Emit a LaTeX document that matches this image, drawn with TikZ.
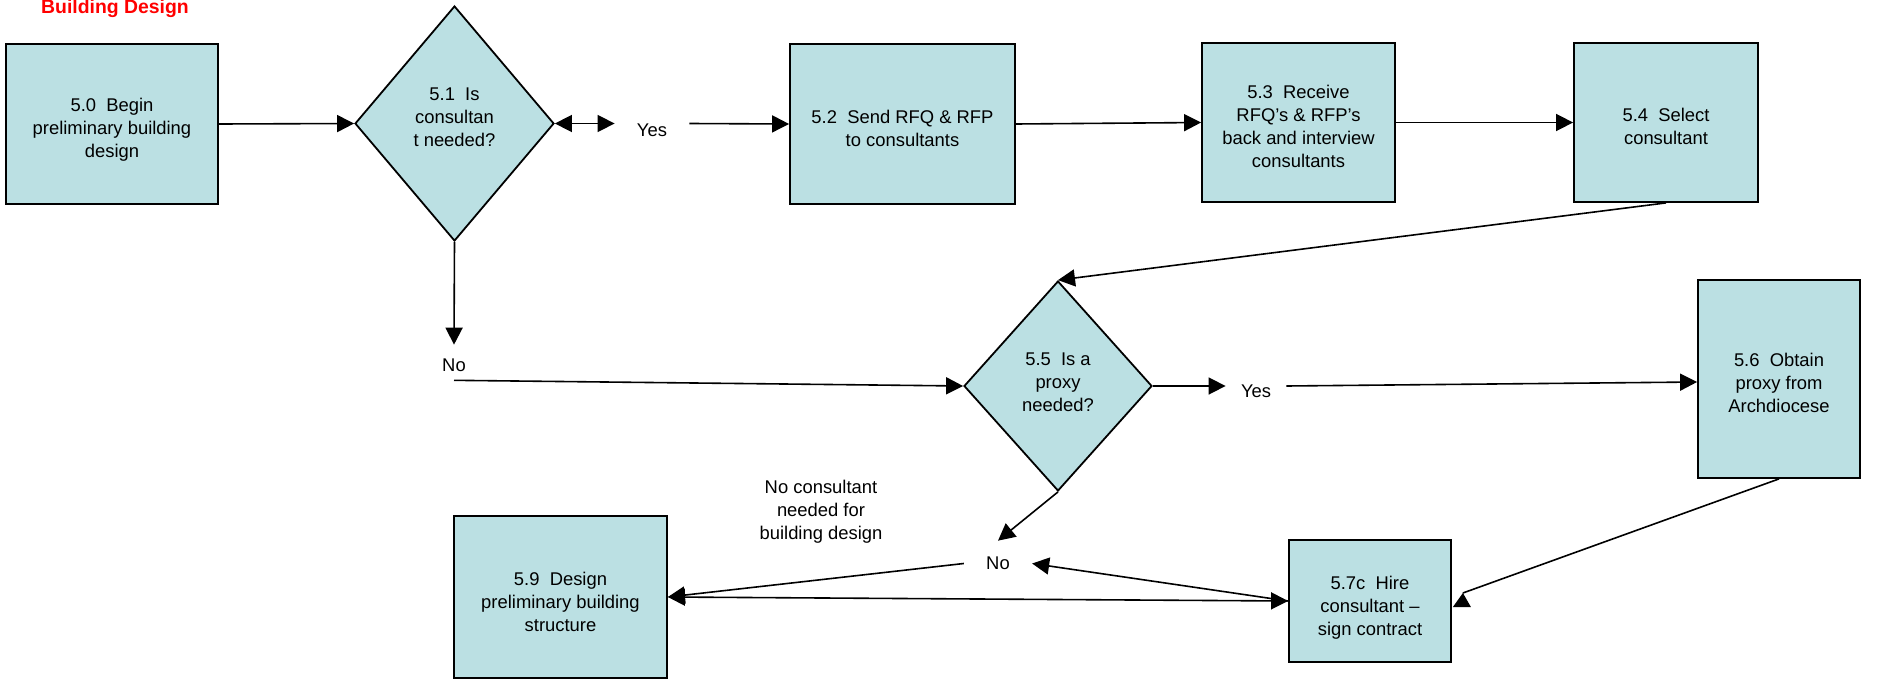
\documentclass[tikz,border=0pt]{standalone}
\usepackage{fontspec}
\setmainfont{Liberation Sans}
\usetikzlibrary{arrows.meta,shapes.geometric}
\definecolor{boxfill}{HTML}{BBE0E3}
\begin{document}
\begin{tikzpicture}[x=0.5pt,y=-0.5pt,
  every node/.style={font=\fontsize{9.2pt}{11.5pt}\selectfont},
  proc/.style={draw, line width=0.9pt, fill=boxfill, inner sep=0pt},
  decis/.style={diamond, draw, line width=0.9pt, fill=boxfill, inner sep=0pt},
  lbl/.style={align=center, inner sep=0pt},
  wire/.style={line width=0.8pt},
  conn/.style={wire, -{Triangle[length=8.5pt,width=8.5pt]}},
  conn2/.style={wire, {Triangle[length=8.5pt,width=8.5pt]}-{Triangle[length=8.5pt,width=8.5pt]}}]
\useasboundingbox (0,0) rectangle (1903,685);

% title
\node[anchor=base, text=red, font=\fontsize{9.7pt}{11pt}\selectfont\bfseries, inner sep=0pt] (title) at (115,13) {Building Design};

% process boxes
\node[proc, minimum width=106pt, minimum height=80pt] (b50) at (112,124) {};
\node[proc, minimum width=112.5pt, minimum height=80pt] (b52) at (902.5,124) {};
\node[proc, minimum width=96.5pt, minimum height=79.5pt] (b53) at (1298.5,122.5) {};
\node[proc, minimum width=92pt, minimum height=79.5pt] (b54) at (1666,122.5) {};
\node[proc, minimum width=81pt, minimum height=99pt] (b56) at (1779,379) {};
\node[proc, minimum width=81pt, minimum height=61pt] (b57c) at (1370,601) {};
\node[proc, minimum width=106.5pt, minimum height=81pt] (b59) at (560.5,597) {};

% decisions
\node[decis, minimum width=99.5pt, minimum height=117.5pt] (d51) at (454.5,123.5) {};
\node[decis, minimum width=94pt, minimum height=105pt] (d55) at (1058,386) {};

% texts of boxes and decisions
\node[lbl] (t50) at (112,130) {5.0~~Begin\\preliminary building\\design};
\node[lbl] (t52) at (902.5,128) {5.2~~Send RFQ \& RFP\\to consultants};
\node[lbl] (t53) at (1298.5,126.5) {5.3~~Receive\\RFQ’s \& RFP’s\\back and interview\\consultants};
\node[lbl] (t54) at (1666,126.5) {5.4~~Select\\consultant};
\node[lbl] (t56) at (1779,382.5) {5.6~~Obtain\\proxy from\\Archdiocese};
\node[lbl] (t57c) at (1370,607.5) {5.7c~~Hire\\consultant –\\sign contract};
\node[lbl] (t59) at (560.5,602) {5.9~~Design\\preliminary building\\structure};
\node[lbl] (t51) at (454.5,117.5) {5.1~~Is\\consultan\\t needed?};
\node[lbl] (t55) at (1058,382.5) {5.5~~Is a\\proxy\\needed?};

% labels
\node[lbl, inner xsep=11pt] (yes1) at (652,130.5) {Yes};
\node[lbl, inner ysep=7pt] (no1) at (454,365.5) {No};
\node[lbl, inner xsep=7.5pt] (yes2) at (1256,391) {Yes};
\node[lbl, inner xsep=11pt, inner ysep=8pt] (no2) at (998,563.5) {No};
\node[lbl] (ncn) at (821,512) {No consultant\\needed for\\building design};

% connectors
\draw[conn] (b50.east) -- (d51.west);
\draw[conn2] (d51.east) -- (yes1.west |- d51.east);
\draw[conn] (yes1.east |- d51.east) -- (b52.west);
\draw[conn] (b52.east) -- (b53.west);
\draw[conn] (b53.east) -- (b54.west);
\draw[conn] (b54.south) -- (d55.north);
\draw[conn] (d51.south) -- (no1.north);
\draw[conn] ([yshift=3pt]no1.south) -- (d55.west);
\draw[conn] (d55.east) -- (yes2.west |- d55.east);
\draw[conn] (yes2.east |- d55.east) -- ([yshift=-1.5pt]b56.west);
\draw[conn] (d55.south) -- (no2.north);
\draw[conn] (no2.west) -- (b59.east);
\draw[conn2] (b59.east) -- (b57c.west);
\draw[conn] (b57c.west) -- (no2.east);
\coordinate (t57) at ([xshift=5.5pt,yshift=4pt]b57c.east);
\draw[wire] (b56.south) -- (t57);
\fill (t57) -- ++(-10,14) -- ++(18,0) -- cycle;
\end{tikzpicture}
\end{document}
